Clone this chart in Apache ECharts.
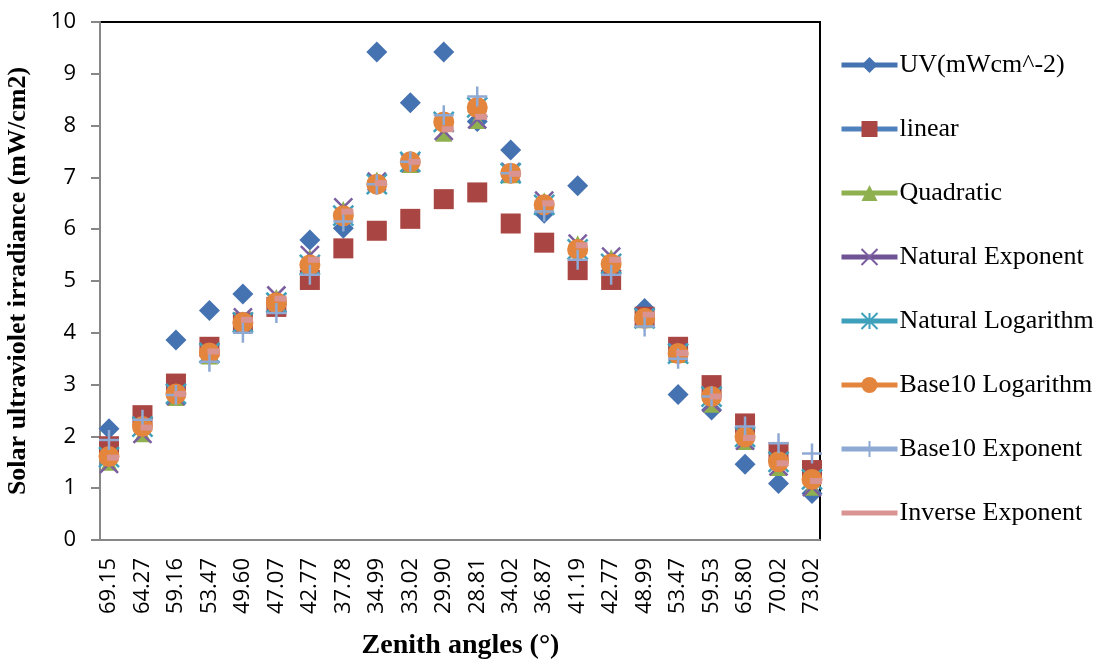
<!DOCTYPE html>
<html>
<head>
<meta charset="utf-8">
<script src="https://cdn.jsdelivr.net/npm/echarts@6/dist/echarts.min.js"></script>
<style>
html,body{margin:0;padding:0;background:#fff;}
#chart{width:1094px;height:662px;}
</style>
</head>
<body>
<div id="chart"></div>
<script>
// zenith angles (x categories)
var angles = ['69.15','64.27','59.16','53.47','49.60','47.07','42.77','37.78','34.99','33.02','29.90',
              '28.81','34.02','36.87','41.19','42.77','48.99','53.47','59.53','65.80','70.02','73.02'];

// measured UV and the model estimates
var uv        = [2.15,2.35,3.86,4.43,4.75,4.55,5.79,6.02,9.42,8.44,9.42,8.08,7.53,6.31,6.84,5.20,4.47,2.81,2.51,1.46,1.09,0.90];
var linear    = [1.81,2.41,3.02,3.73,4.20,4.50,5.02,5.63,5.97,6.20,6.58,6.71,6.11,5.74,5.21,5.02,4.31,3.73,2.99,2.25,1.70,1.35];
var quadratic = [1.50,2.05,2.75,3.55,4.25,4.68,5.45,6.38,6.95,7.25,7.85,8.10,7.05,6.55,5.72,5.45,4.25,3.58,2.62,1.90,1.40,1.02];
var natExp    = [1.47,2.05,2.78,3.60,4.30,4.72,5.50,6.42,6.92,7.28,7.90,8.12,7.10,6.55,5.72,5.47,4.30,3.62,2.65,1.92,1.42,1.02];
var natLog    = [1.60,2.19,2.82,3.61,4.20,4.58,5.31,6.26,6.87,7.30,8.07,8.35,7.08,6.47,5.61,5.33,4.28,3.60,2.77,1.99,1.51,1.17];
var b10Log    = [1.61,2.19,2.82,3.61,4.20,4.58,5.31,6.26,6.87,7.30,8.07,8.35,7.08,6.47,5.61,5.33,4.28,3.60,2.77,1.99,1.51,1.17];
var b10Exp    = [1.93,2.32,2.80,3.44,4.00,4.38,5.12,6.15,6.87,7.30,8.20,8.56,7.08,6.34,5.41,5.12,4.12,3.50,2.77,2.19,1.87,1.67];
var invExp    = [1.59,2.17,2.82,3.64,4.25,4.66,5.41,6.34,6.89,7.30,7.93,8.17,7.07,6.50,5.69,5.41,4.35,3.61,2.77,1.97,1.48,1.14];

var yRange = [0, 10];

var myChart = echarts.init(document.getElementById('chart'));

function mk(name, data, color, lineColor, symbol, size, extra){
    var s = {
        name: name,
        type: 'line',
        xAxisIndex: 0,
        yAxisIndex: 0,
        data: data,
        symbol: symbol,
        symbolSize: size,
        showAllSymbol: true,
        itemStyle: {color: color},
        lineStyle: {width: 0, opacity: 0, color: lineColor},
        emphasis: {disabled: true},
        animation: false
    };
    for(var k in extra){ s[k] = extra[k]; }
    return s;
}

var xPath = 'path://M0,0L10,10M10,0L0,10';
var starPath = 'path://M0,0L10,10M10,0L0,10M5,0L5,10';
var plusPath = 'path://M5,0L5,10M0,5L10,5';

option = {
    backgroundColor: '#fff',
    animation: false,
    grid: [
        // data area: first/last category sit a little inside the frame
        {left: 109, right: 282, top: 22, bottom: 122, outerBoundsMode: 'none'},
        // frame
        {left: 100, right: 274, top: 22, bottom: 122, outerBoundsMode: 'none', show: true, borderColor: '#000', borderWidth: 2, backgroundColor: 'transparent'}
    ],
    legend: {
        orient: 'vertical',
        left: 834,
        top: 47,
        itemWidth: 56,
        itemHeight: 20,
        itemGap: 38,
        textStyle: {fontFamily: 'Liberation Serif', fontSize: 26, color: '#000', padding: [0,0,0,-3]},
        lineStyle: {width: 5, opacity: 1},
        selectedMode: false,
        data: ['UV(mWcm^-2)','linear','Quadratic','Natural Exponent','Natural Logarithm','Base10 Logarithm','Base10 Exponent',
               {name: 'Inverse Exponent', itemStyle: {opacity: 0}}]
    },
    xAxis: [
        {
            gridIndex: 0,
            type: 'category',
            data: angles,
            boundaryGap: false,
            axisLine: {show: false},
            axisTick: {show: false},
            axisLabel: {rotate: 90, margin: 18, fontFamily: 'Open Sans', fontSize: 22, color: '#000', interval: 0},
            name: 'Zenith angles (°)',
            nameLocation: 'middle',
            nameGap: 92,
            nameTextStyle: {fontFamily: 'Liberation Serif', fontWeight: 'bold', fontSize: 28, color: '#000'}
        },
        {
            gridIndex: 1,
            type: 'value',
            min: 0, max: 1,
            axisLine: {show: true, lineStyle: {color: '#878787', width: 2}},
            axisTick: {show: false},
            axisLabel: {show: false},
            splitLine: {show: false}
        }
    ],
    yAxis: [
        {gridIndex: 0, type: 'value', min: yRange[0], max: yRange[1], show: false, splitLine: {show: false}},
        {
            gridIndex: 1,
            type: 'value',
            min: yRange[0], max: yRange[1], interval: 1,
            axisLine: {show: true, lineStyle: {color: '#878787', width: 2}},
            axisTick: {show: true, length: 9, lineStyle: {color: '#878787', width: 2}},
            axisLabel: {fontFamily: 'Open Sans', fontSize: 22, color: '#000', margin: 24},
            splitLine: {show: false},
            name: 'Solar ultraviolet irradiance (mW/cm2)',
            nameLocation: 'middle',
            nameGap: 69,
            nameTextStyle: {fontFamily: 'Liberation Serif', fontWeight: 'bold', fontSize: 26, color: '#000'}
        }
    ],
    series: [
        mk('UV(mWcm^-2)', uv, '#4572b0', '#4572b0', 'diamond', 21),
        mk('linear', linear, '#a94542', '#4f81bd', 'rect', 20),
        mk('Quadratic', quadratic, '#8eb04f', '#8eb04f', 'triangle', 17),
        mk('Natural Exponent', natExp, '#7a5ea0', '#6f5394', xPath, 18, {itemStyle: {color: 'none', borderColor: '#7a5ea0', borderWidth: 2.5}}),
        mk('Natural Logarithm', natLog, '#3fa0bb', '#3fa0bb', starPath, 20, {itemStyle: {color: 'none', borderColor: '#3fa0bb', borderWidth: 2.5}}),
        mk('Base10 Logarithm', b10Log, '#e3853d', '#e3853d', 'circle', 21),
        mk('Base10 Exponent', b10Exp, '#8eaad4', '#8eaad4', plusPath, 20, {itemStyle: {color: 'none', borderColor: '#8eaad4', borderWidth: 2.5}}),
        mk('Inverse Exponent', invExp, '#d99391', '#d99391', 'rect', [12, 6], {symbolOffset: [4, 0]})
    ]
};
myChart.setOption(option);
</script>
</body>
</html>
